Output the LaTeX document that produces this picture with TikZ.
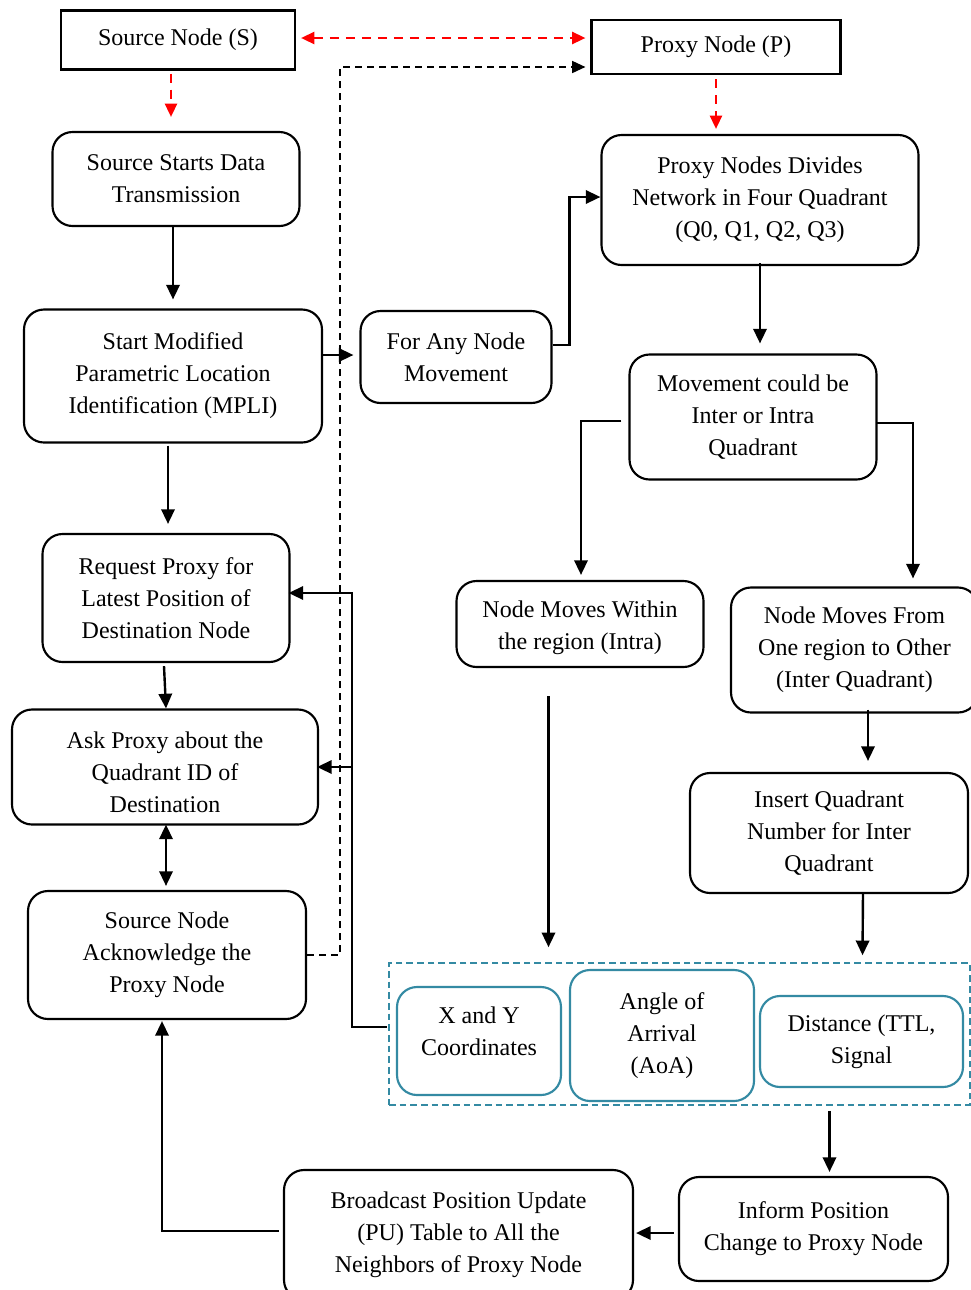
\documentclass[tikz,border=0pt]{standalone}
\usepackage{fontspec}
\setmainfont{Liberation Serif}
\usetikzlibrary{arrows.meta,calc}
\definecolor{tealc}{RGB}{52,138,163}
\definecolor{redc}{RGB}{255,0,0}
\begin{document}
\begin{tikzpicture}[x=0.75pt,y=-0.75pt,
  font=\fontsize{18}{24}\selectfont,
  sq/.style={draw,line width=1.6pt,inner sep=0pt,align=center},
  rbox/.style={draw,line width=1.6pt,rounded corners=15pt,inner sep=0pt,align=center},
  tbox/.style={draw=tealc,line width=1.6pt,rounded corners=15pt,inner sep=0pt,align=center},
  sz/.style 2 args={minimum width=#1*0.75pt,minimum height=#2*0.75pt},
  tip/.tip={Triangle[length=11pt,width=10pt]},
  arr/.style={line width=1.8pt,-tip},
  darr/.style={line width=1.8pt,tip-tip},
  reddash/.style={draw=redc,line width=1.8pt,dash pattern=on 7pt off 5pt,-{Triangle[length=10pt,width=9pt]}},
  bdash/.style={line width=1.3pt,dash pattern=on 5pt off 4pt,-{Triangle[length=10pt,width=9pt]}},
  grpbox/.style={draw=tealc,line width=1.2pt,dash pattern=on 5pt off 3pt,inner sep=0pt},
  lbl/.style={align=center,yshift=#1}]
\useasboundingbox (0,0) rectangle (971,1290);
\clip (0,0) rectangle (971,1290);

\node[sq,sz={234}{59}] (src) at (178,40) {Source Node (S)};
\node[sq,sz={249}{54}] (prx) at (716,47) {Proxy Node (P)};
\node[rbox,sz={247}{94}] (ssd) at (176,179) {Source Starts Data\\Transmission};
\node[rbox,sz={317}{130}] (pnd) at (760,200) {Proxy Nodes Divides\\Network in Four Quadrant\\(Q0, Q1, Q2, Q3)};
\node[rbox,sz={298}{133}] (mpli) at (173,376) {Start Modified\\Parametric Location\\Identification (MPLI)};
\node[rbox,sz={191}{92}] (any) at (456,357) {For Any Node\\Movement};
\node[rbox,sz={247}{125}] (mov) at (753,417) {Movement could be\\Inter or Intra\\Quadrant};
\node[rbox,sz={247}{128}] (req) at (166,598) {Request Proxy for\\Latest Position of\\Destination Node};
\node[rbox,sz={247}{86},label={[lbl=-3pt]center:Node Moves Within\\the region (Intra)}] (intra) at (580,624) {};
\node[rbox,sz={247}{125}] (inter) at (854.5,650) {Node Moves From\\One region to Other\\(Inter Quadrant)};
\node[rbox,sz={306}{115},label={[lbl=-4pt]center:Ask Proxy about the\\Quadrant ID of\\Destination}] (ask) at (165,767) {};
\node[rbox,sz={278}{120}] (ins) at (829,833) {Insert Quadrant\\Number for Inter\\Quadrant};
\node[rbox,sz={278}{128}] (ack) at (167,955) {Source Node\\Acknowledge the\\Proxy Node};
\node[grpbox,sz={581}{142}] (grp) at (679.5,1034) {};
\node[tbox,sz={164}{108},label={[lbl=7pt]center:X and Y\\Coordinates}] (xy) at (479,1041) {};
\node[tbox,sz={184}{131}] (aoa) at (662,1035.5) {Angle of\\Arrival\\(AoA)};
\node[tbox,sz={203}{91}] (dist) at (861.5,1041.5) {Distance (TTL,\\Signal};
\node[rbox,sz={349}{130}] (bc) at (458.5,1235) {Broadcast Position Update\\(PU) Table to All the\\Neighbors of Proxy Node};
\node[rbox,sz={269}{104}] (inf) at (813.5,1229) {Inform Position\\Change to Proxy Node};

% red dashed
\draw[reddash,{Triangle[length=10pt,width=9pt]}-{Triangle[length=10pt,width=9pt]}]
  ($(src.east)+(5,-2)$) -- ($(src.east -| prx.west)+(-5,-2)$);
\draw[reddash] ($(src.south)+(-7,3)$) -- ($(ssd.north)+(-5,-14)$);
\draw[reddash] ($(prx.south)+(0,4)$) -- ($(pnd.north)+(-44,-5)$);

% black dashed
\draw[bdash] (ack.east) -- ++(33,0) |- ($(prx.west)+(-5,20)$);

% solid connectors
\draw[arr] ($(ssd.south)+(-3,0)$) -- ($(mpli.north)+(0,-9)$);
\draw[arr] ($(mpli.east)+(0,-21)$) -- ($(any.west)+(-6,-2)$);
\draw[arr] ($(any.east)+(0,-12)$) -- ++(17,0) |- ($(pnd.west)+(0,-3)$);
\draw[arr] ($(pnd.south)+(0,-3)$) -- ($(mov.north)+(7,-10)$);
\draw[arr] ($(mov.west)+(-7,4)$) -| ($(intra.north)+(1,-5)$);
\draw[arr] ($(mov.east)+(-2,6)$) -| ($(inter.north)+(58.5,-8)$);
\draw[arr] ($(mpli.south)+(-5,2)$) -- ($(req.north)+(2,-9)$);
\draw[arr] ($(req.south)+(-2,3)$) -- ($(ask.north)+(1,0)$);
\draw[darr] ($(ask.south)+(1,-1)$) -- ($(ack.north)+(-1,-4)$);
\draw[arr] ($(xy.west)+(-9,-14)$) -- ++(-35,0) coordinate (jx) |- ($(req.east)+(-2,-5)$);
\draw[arr] (jx |- ask.east) -- ($(ask.east)+(-2,0)$);
\draw[arr] ($(intra.south)+(-31.5,28)$) -- ($(grp.north)+(-131,-15)$);
\draw[arr] ($(inter.south)+(13.5,-4)$) -- ($(ins.north)+(39,-11)$);
\draw[arr] ($(ins.south)+(34,-1)$) -- ($(grp.north)+(183,-7)$);
\draw[arr] ($(grp.south)+(150,5)$) -- ($(inf.north)+(16,-4)$);
\draw[arr] ($(inf.west)+(-4,4)$) -- ($(bc.east)+(2,-2)$);
\draw[arr] ($(bc.west)+(-4,-4)$) -| ($(ack.south)+(-5,1)$);
\end{tikzpicture}
\end{document}
